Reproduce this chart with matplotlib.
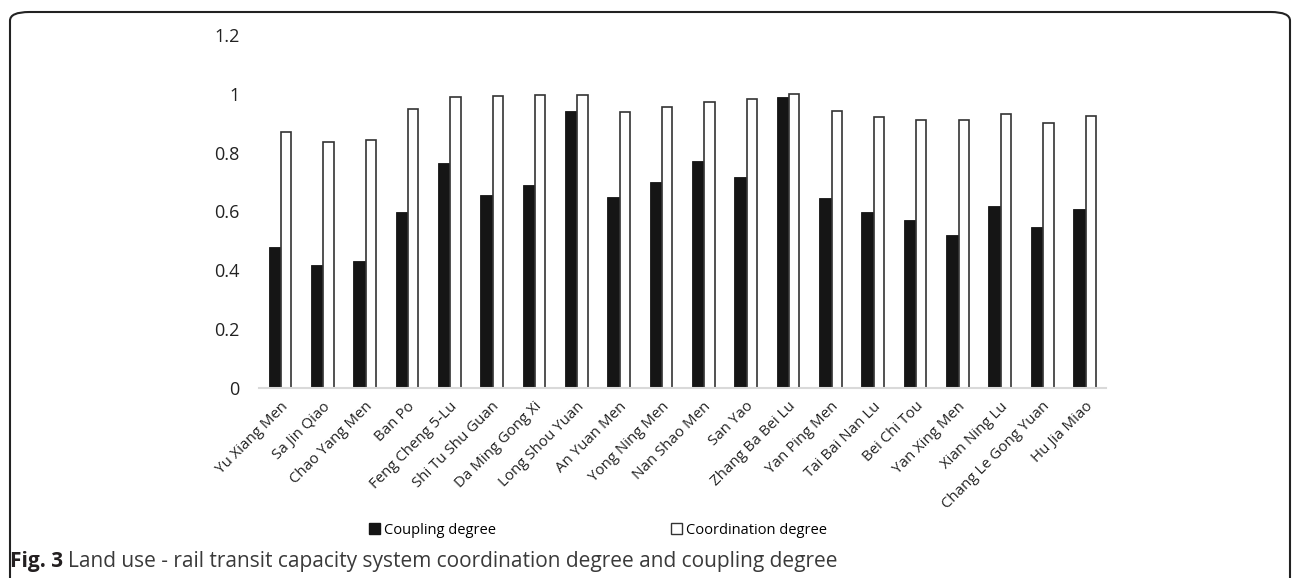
import matplotlib
matplotlib.use("Agg")
import matplotlib.pyplot as plt
from matplotlib.patches import FancyBboxPatch, Patch
import numpy as np

stations = ["Yu Xiang Men", "Sa Jin Qiao", "Chao Yang Men", "Ban Po", "Feng Cheng 5-Lu",
            "Shi Tu Shu Guan", "Da Ming Gong Xi", "Long Shou Yuan", "An Yuan Men", "Yong Ning Men",
            "Nan Shao Men", "San Yao", "Zhang Ba Bei Lu", "Yan Ping Men", "Tai Bai Nan Lu",
            "Bei Chi Tou", "Yan Xing Men", "Xian Ning Lu", "Chang Le Gong Yuan", "Hu Jia Miao"]
coupling = [0.479, 0.419, 0.433, 0.597, 0.765, 0.657, 0.689, 0.940, 0.648, 0.700,
            0.773, 0.718, 0.990, 0.645, 0.598, 0.571, 0.521, 0.618, 0.546, 0.608]
coordination = [0.870, 0.836, 0.844, 0.950, 0.990, 0.992, 0.996, 0.996, 0.939, 0.956,
                0.973, 0.984, 0.998, 0.940, 0.922, 0.912, 0.910, 0.931, 0.902, 0.926]
yticks = [0, 0.2, 0.4, 0.6, 0.8, 1, 1.2]
ytick_labels = ["0", "0.2", "0.4", "0.6", "0.8", "1", "1.2"]

plt.rcParams['font.family'] = ['Open Sans', 'DejaVu Sans']

fig = plt.figure(figsize=(12.92, 5.78), dpi=100)
ax = fig.add_axes([259/1292, 1-388/578, (1106-259)/1292, (388-35)/578])

x = np.arange(len(stations))
w = 0.27
ax.bar(x - 0.14, coupling, w, color="#151515", edgecolor="#151515", linewidth=0.6)
ax.bar(x + 0.14, coordination, w * 0.9, color="white", edgecolor="#333333", linewidth=1.2)

ax.set_xlim(-0.5, len(stations) - 0.5)
ax.set_ylim(0, 1.2)
ax.set_yticks(yticks)
ax.set_yticklabels(ytick_labels, fontsize=13, color="#222222")
ax.set_xticks(x)
ax.set_xticklabels(stations, rotation=45, ha="right", rotation_mode="anchor",
                   fontsize=10.8, color="#222222")
ax.tick_params(axis="y", length=0, pad=14)
ax.tick_params(axis="x", length=0, pad=8)
for s in ["top", "right", "left"]:
    ax.spines[s].set_visible(False)
ax.spines["bottom"].set_color("#d9d9d9")
ax.spines["bottom"].set_linewidth(1.5)

handles = [Patch(facecolor="#151515", edgecolor="#151515"),
           Patch(facecolor="white", edgecolor="#333333")]
fig.legend(handles, ["Coupling degree", "Coordination degree"], loc="center",
           bbox_to_anchor=(598/1292, 1-530/578), ncol=2, frameon=False,
           fontsize=10.5, handlelength=0.75, handleheight=0.75, handletextpad=0.25,
           columnspacing=12)

# caption
cy = 1 - 561/578
t1 = fig.text(10/1292, cy, "Fig. 3", fontsize=15, fontweight="bold",
              color="#231f20", va="center", ha="left")
fig.canvas.draw()
bb = t1.get_window_extent(renderer=fig.canvas.get_renderer())
fig.text((bb.x1 + 5) / 1292, cy,
         "Land use - rail transit capacity system coordination degree and coupling degree",
         fontsize=15, color="#3a3a3a", va="center", ha="left")

# frame
frame = FancyBboxPatch((10/1292, -0.1), (1280/1292), 1 - 12/578 + 0.1,
                       boxstyle="round,pad=0,rounding_size=0.015",
                       transform=fig.transFigure, fill=False, edgecolor="#222222",
                       linewidth=1.5, clip_on=False)
fig.patches.append(frame)

fig.savefig("out.png", dpi=100)
